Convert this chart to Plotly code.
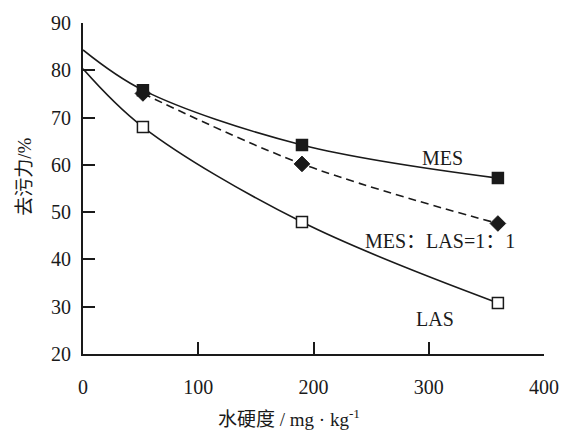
import plotly.graph_objects as go

# measured points
x_pts = [52, 190, 360]
mes = [75.8, 64.2, 57.2]
blend = [75.1, 60.2, 47.6]
las = [68.0, 47.9, 30.8]

# fitted-curve start values (read at x = 0)
curve_x0 = 0
mes_start = 84.3
las_start = 80.3

x_ticks = [0, 100, 200, 300, 400]
y_ticks = [20, 30, 40, 50, 60, 70, 80, 90]

cjk = "Liberation Serif, Noto Sans CJK SC"
ink = "#1a1a1a"

fig = go.Figure()

# curves
fig.add_trace(go.Scatter(x=[curve_x0] + x_pts, y=[mes_start] + mes, mode="lines",
                         line=dict(color=ink, width=1.6, shape="spline", smoothing=1.0),
                         hoverinfo="skip", showlegend=False))
fig.add_trace(go.Scatter(x=x_pts, y=blend, mode="lines",
                         line=dict(color=ink, width=1.6, shape="spline", dash="8px,5px"),
                         hoverinfo="skip", showlegend=False))
fig.add_trace(go.Scatter(x=[curve_x0] + x_pts, y=[las_start] + las, mode="lines",
                         line=dict(color=ink, width=1.6, shape="spline", smoothing=1.0),
                         hoverinfo="skip", showlegend=False))

# markers
fig.add_trace(go.Scatter(x=x_pts, y=mes, mode="markers", name="MES",
                         marker=dict(symbol="square", size=11, color=ink,
                                     line=dict(color=ink, width=1.5)),
                         showlegend=False))
fig.add_trace(go.Scatter(x=x_pts, y=blend, mode="markers", name="MES：LAS=1：1",
                         marker=dict(symbol="diamond", size=12, color=ink,
                                     line=dict(color=ink, width=1)),
                         showlegend=False))
fig.add_trace(go.Scatter(x=x_pts, y=las, mode="markers", name="LAS",
                         marker=dict(symbol="square", size=11, color="white",
                                     line=dict(color=ink, width=1.5)),
                         showlegend=False))

labels = [("MES", 312, 61.4), ("MES：LAS=1：1", 310, 43.9), ("LAS", 305.4, 27.4)]
for txt, lx, ly in labels:
    fig.add_annotation(x=lx, y=ly, text=txt, showarrow=False, xref="x", yref="y",
                       font=dict(family=cjk, size=20, color=ink))

fig.add_annotation(x=0.447, y=-0.194, xref="paper", yref="paper", showarrow=False,
                   text="水硬度 / mg · kg<sup>-1</sup>", xanchor="center", yanchor="middle",
                   font=dict(family=cjk, size=19, color=ink))
fig.add_annotation(x=-0.126, y=0.535, xref="paper", yref="paper", showarrow=False,
                   text="去污力/%", textangle=-90, xanchor="center", yanchor="middle",
                   font=dict(family=cjk, size=19, color=ink))

fig.update_xaxes(range=[0, 400], tickvals=x_ticks, ticks="inside", ticklen=12,
                 tickwidth=2, tickcolor=ink, showline=True, linecolor=ink, linewidth=2,
                 showgrid=False, zeroline=False, ticklabelstandoff=14,
                 tickfont=dict(family=cjk, size=20, color=ink))
fig.update_yaxes(range=[20, 90], tickvals=y_ticks, ticks="inside", ticklen=12,
                 tickwidth=2, tickcolor=ink, showline=True, linecolor=ink, linewidth=2,
                 showgrid=False, zeroline=False, ticklabelstandoff=6,
                 tickfont=dict(family=cjk, size=20, color=ink))

fig.update_layout(width=573, height=433, margin=dict(l=83, r=29, t=14, b=79),
                  plot_bgcolor="white", paper_bgcolor="white", showlegend=False)

fig.write_html("out.html")
